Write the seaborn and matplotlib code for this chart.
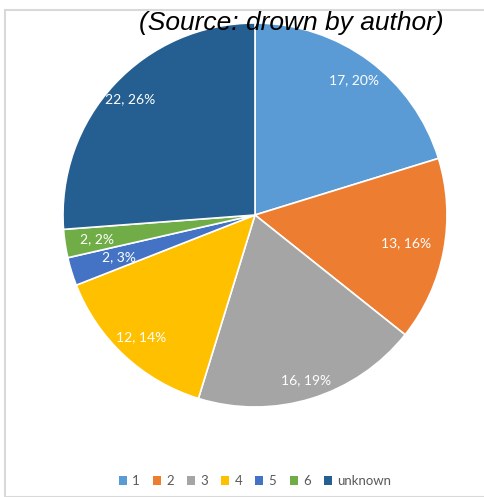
import matplotlib
matplotlib.use("Agg")
import matplotlib.pyplot as plt
import seaborn as sns
import numpy as np
from matplotlib.patches import Rectangle, Patch

sns.set_theme(style="white")
plt.rcParams['font.family'] = ['Lato', 'DejaVu Sans']

categories = ["1", "2", "3", "4", "5", "6", "unknown"]
values = [17, 13, 16, 12, 2, 2, 22]
labels = ["17, 20%", "13, 16%", "16, 19%", "12, 14%", "2, 3%", "2, 2%", "22, 26%"]
colors = ["#5B9BD5", "#ED7D31", "#A5A5A5", "#FFC000", "#4472C4", "#70AD47", "#255E91"]
label_dist = [0.87, 0.80, 0.90, 0.87, 0.74, 0.83, 0.89]

W, H = 485, 497
fig = plt.figure(figsize=(W / 100, H / 100), dpi=100)

# outer frame (partially cropped)
fig.patches.append(Rectangle((5 / W, 0), 1.2, 1 - 10 / H, transform=fig.transFigure,
                             fill=False, edgecolor="#D9D9D9", linewidth=1.5))

cx, cy, r = 255, 215, 192
ax = fig.add_axes([(cx - r) / W, 1 - (cy + r) / H, 2 * r / W, 2 * r / H])
wedges, _ = ax.pie(values, colors=colors, startangle=90, counterclock=False,
                   wedgeprops=dict(edgecolor="white", linewidth=1.2))
ax.set_xlim(-1, 1)
ax.set_ylim(-1, 1)
ax.set_aspect("equal")
ax.axis("off")

for w, lab, d in zip(wedges, labels, label_dist):
    ang = np.deg2rad((w.theta1 + w.theta2) / 2)
    ax.text(d * np.cos(ang), d * np.sin(ang), lab, ha="center", va="center",
            color="white", fontsize=10)

fig.text(291 / W, 1 - 23 / H, "(Source: drown by author)", ha="center", va="center",
         fontsize=19, style="italic", family=["Liberation Sans", "DejaVu Sans"],
         color="black")

handles = [Patch(facecolor=c, edgecolor="none") for c in colors]
fig.legend(handles, categories, loc="center", bbox_to_anchor=(255 / W, 1 - 481 / H),
           ncol=7, frameon=False, fontsize=9.5, handlelength=0.6, handleheight=0.6,
           handletextpad=0.4, columnspacing=1.0, labelcolor="#595959")

fig.savefig("out.png", dpi=100)
